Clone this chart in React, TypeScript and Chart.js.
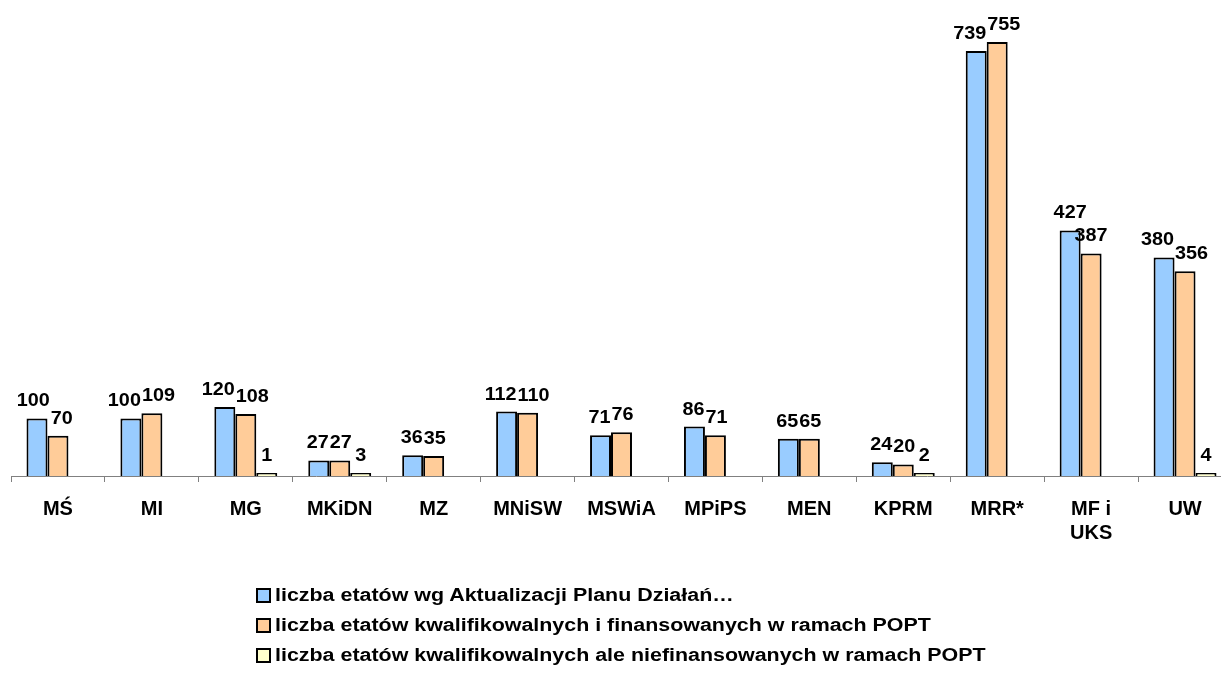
import React, { useEffect, useRef } from "react";
import { Chart, registerables } from "chart.js";

Chart.register(...registerables);

const categories: (string | string[])[] = [
  "MŚ", "MI", "MG", "MKiDN", "MZ", "MNiSW", "MSWiA", "MPiPS", "MEN", "KPRM", "MRR*", ["MF i", "UKS"], "UW",
];
const planValues: (number | null)[] = [100, 100, 120, 27, 36, 112, 71, 86, 65, 24, 739, 427, 380];
const financedValues: (number | null)[] = [70, 109, 108, 27, 35, 110, 76, 71, 65, 20, 755, 387, 356];
const unfinancedValues: (number | null)[] = [null, null, 1, 3, null, null, null, null, null, 2, null, null, 4];

const seriesNames = [
  "liczba etatów wg Aktualizacji Planu Działań…",
  "liczba etatów kwalifikowalnych i finansowanych w ramach POPT",
  "liczba etatów kwalifikowalnych ale niefinansowanych w ramach POPT",
];
const seriesColors = ["#99CCFF", "#FFCC99", "#FFFFCC"];

const FONT = "'Liberation Sans', Arial, sans-serif";
const LABEL_SCALE_X = 1.1;

const valueLabels = {
  id: "valueLabels",
  afterDatasetsDraw(chart: any) {
    const ctx = chart.ctx;
    ctx.save();
    ctx.font = `bold 18px ${FONT}`;
    ctx.fillStyle = "#000";
    ctx.textAlign = "center";
    ctx.textBaseline = "bottom";
    const n = chart.data.labels.length;
    for (let i = 0; i < n; i++) {
      const items: { text: string; x: number; y: number; w: number }[] = [];
      chart.data.datasets.forEach((ds: any, di: number) => {
        const v = ds.data[i];
        if (v === null || v === undefined) return;
        const bar = chart.getDatasetMeta(di).data[i];
        const text = String(v);
        items.push({ text, x: bar.x, y: bar.y - 8, w: ctx.measureText(text).width * LABEL_SCALE_X });
      });
      for (let k = 1; k < items.length; k++) {
        const a = items[k - 1];
        const b = items[k];
        const overlap = a.x + a.w / 2 + 1 - (b.x - b.w / 2);
        if (overlap > 0 && Math.abs(a.y - b.y) < 18) {
          a.x -= overlap / 2;
          b.x += overlap / 2;
        }
      }
      items.forEach((it) => {
        ctx.save();
        ctx.translate(it.x, it.y);
        ctx.scale(LABEL_SCALE_X, 1);
        ctx.fillText(it.text, 0, 0);
        ctx.restore();
      });
    }
    ctx.restore();
  },
};

export default function App() {
  const ref = useRef<HTMLCanvasElement | null>(null);
  useEffect(() => {
    document.body.style.margin = "0";
    document.body.style.overflow = "hidden";
    const chart = new Chart(ref.current as HTMLCanvasElement, {
      type: "bar",
      data: {
        labels: categories,
        datasets: [
          { label: seriesNames[0], data: planValues, backgroundColor: seriesColors[0], borderColor: "#000", borderWidth: 2 },
          { label: seriesNames[1], data: financedValues, backgroundColor: seriesColors[1], borderColor: "#000", borderWidth: 2 },
          { label: seriesNames[2], data: unfinancedValues, backgroundColor: seriesColors[2], borderColor: "#000", borderWidth: 2, minBarLength: 3 },
        ],
      },
      options: {
        responsive: false,
        animation: false,
        layout: { padding: { left: 11, right: 8, top: 16, bottom: 113 } },
        datasets: { bar: { categoryPercentage: 0.67, barPercentage: 1 } },
        plugins: { legend: { display: false }, tooltip: { enabled: false } },
        scales: {
          x: {
            grid: { display: true, drawOnChartArea: false, drawTicks: true, tickLength: 6, color: "#808080", lineWidth: 1 },
            border: { display: true, color: "#808080", width: 1 },
            ticks: {
              color: "#000",
              padding: 15,
              maxRotation: 0,
              autoSkip: false,
              font: { family: FONT, size: 20, weight: "bold", lineHeight: "24px" },
            },
          },
          y: { display: false, min: 0, max: 800 },
        },
      },
      plugins: [valueLabels],
    });
    return () => chart.destroy();
  }, []);

  return (
    <div style={{ position: "relative", width: 1221, height: 673, overflow: "hidden", background: "#fff" }}>
      <canvas ref={ref} width={1240} height={673} style={{ position: "absolute", left: 0, top: 0 }} />
      <div style={{ position: "absolute", left: 256, top: 580, fontFamily: FONT, fontWeight: "bold", fontSize: 18, color: "#000" }}>
        {seriesNames.map((name, i) => (
          <div key={i} style={{ display: "flex", alignItems: "center", height: 30 }}>
            <span style={{ display: "inline-block", flex: "none", width: 11, height: 11, background: seriesColors[i], border: "2px solid #000", marginRight: 4 }} />
            <span style={{ display: "inline-block", whiteSpace: "nowrap", transform: "scaleX(1.19)", transformOrigin: "left center" }}>{name}</span>
          </div>
        ))}
      </div>
    </div>
  );
}
